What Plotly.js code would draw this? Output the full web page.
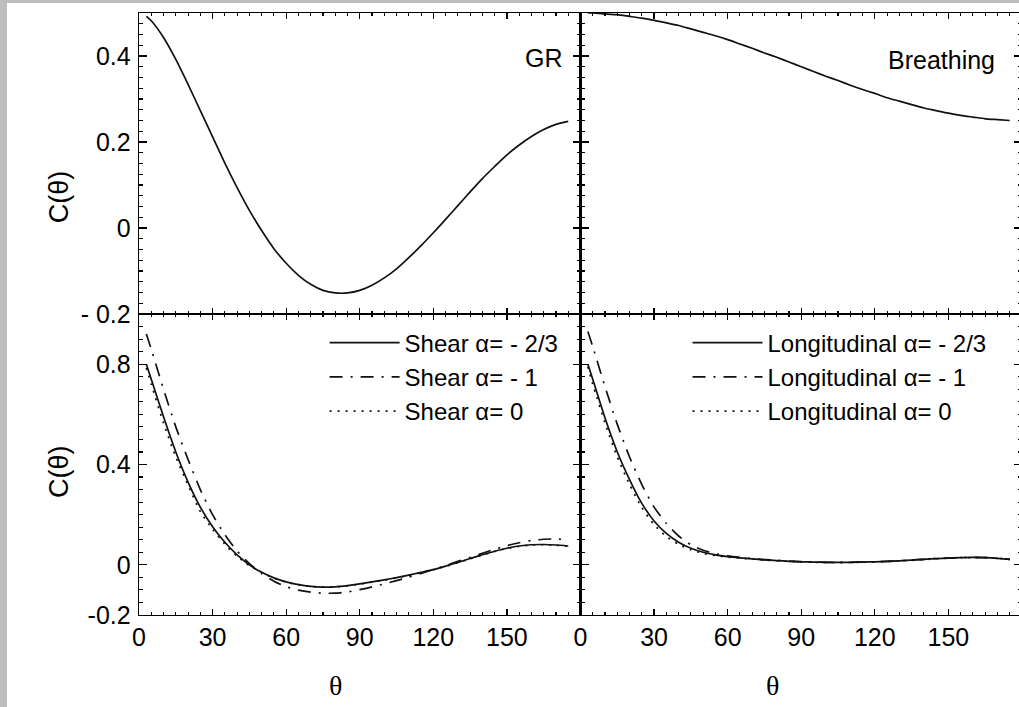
<!DOCTYPE html>
<html>
<head>
<meta charset="utf-8">
<script src="https://cdn.plot.ly/plotly-3.0.1.min.js"></script>
<style>
  html, body { margin: 0; padding: 0; background: #bebebe; overflow: hidden; width: 1019px; height: 707px; }
  #chart { position: absolute; left: 7px; top: 3px; width: 1016px; height: 704px; background: #fff; }
</style>
</head>
<body>
<div id="chart"></div>
<script>
// Angular separation (degrees) at which every correlation curve is sampled
const theta = [3, 5, 10, 15, 20, 25, 30, 35, 40, 45, 50, 55, 60, 65, 70, 75, 80, 85, 90,
               95, 100, 105, 110, 115, 120, 125, 130, 135, 140, 145, 150, 155, 160, 165, 170, 175];

// Top row: general relativity and breathing mode
const grCorr = [0.492, 0.482, 0.443, 0.392, 0.334, 0.273, 0.212, 0.151, 0.094, 0.041, -0.006, -0.048,
                -0.082, -0.110, -0.131, -0.145, -0.151, -0.151, -0.145, -0.133, -0.116, -0.095, -0.069,
                -0.041, -0.011, 0.020, 0.052, 0.084, 0.115, 0.143, 0.170, 0.193, 0.213, 0.229, 0.241, 0.248];
const breathingCorr = [0.500, 0.500, 0.498, 0.496, 0.492, 0.488, 0.483, 0.477, 0.471, 0.463, 0.455, 0.447,
                       0.438, 0.428, 0.418, 0.407, 0.397, 0.386, 0.375, 0.364, 0.353, 0.343, 0.332, 0.322,
                       0.313, 0.303, 0.295, 0.287, 0.279, 0.273, 0.267, 0.262, 0.258, 0.254, 0.252, 0.250];

// Bottom left: shear modes
const shearM23 = [0.800, 0.740, 0.590, 0.450, 0.330, 0.230, 0.152, 0.090, 0.040, 0.000, -0.030, -0.052,
                  -0.068, -0.079, -0.086, -0.089, -0.088, -0.083, -0.076, -0.068, -0.060, -0.051, -0.041,
                  -0.030, -0.019, -0.005, 0.010, 0.025, 0.040, 0.054, 0.066, 0.075, 0.080, 0.081, 0.079, 0.075];
const shearM1 = [0.920, 0.860, 0.700, 0.550, 0.420, 0.300, 0.200, 0.120, 0.055, 0.005, -0.035, -0.065,
                 -0.087, -0.101, -0.109, -0.113, -0.113, -0.108, -0.099, -0.088, -0.076, -0.063, -0.049,
                 -0.034, -0.019, -0.003, 0.014, 0.030, 0.046, 0.062, 0.076, 0.088, 0.097, 0.102, 0.103, 0.100];
const shear0 = [0.785, 0.720, 0.565, 0.430, 0.318, 0.212, 0.142, 0.082, 0.034, -0.003, -0.031, -0.053,
                -0.069, -0.079, -0.086, -0.089, -0.088, -0.084, -0.077, -0.069, -0.061, -0.052, -0.042,
                -0.031, -0.019, -0.006, 0.009, 0.024, 0.039, 0.053, 0.065, 0.074, 0.079, 0.080, 0.078, 0.074];

// Bottom right: longitudinal modes
const longM23 = [0.800, 0.740, 0.585, 0.450, 0.340, 0.245, 0.175, 0.125, 0.090, 0.066, 0.050, 0.040,
                 0.033, 0.028, 0.024, 0.020, 0.017, 0.014, 0.012, 0.011, 0.010, 0.010, 0.010, 0.011,
                 0.012, 0.014, 0.016, 0.019, 0.022, 0.025, 0.027, 0.029, 0.030, 0.029, 0.026, 0.022];
const longM1 = [0.930, 0.870, 0.710, 0.560, 0.430, 0.320, 0.230, 0.165, 0.115, 0.080, 0.058, 0.044,
                0.036, 0.030, 0.025, 0.021, 0.018, 0.015, 0.013, 0.011, 0.010, 0.010, 0.010, 0.011,
                0.012, 0.014, 0.016, 0.019, 0.022, 0.025, 0.027, 0.029, 0.030, 0.029, 0.026, 0.022];
const long0 = [0.790, 0.720, 0.565, 0.430, 0.320, 0.228, 0.160, 0.113, 0.082, 0.060, 0.046, 0.037,
               0.031, 0.027, 0.023, 0.019, 0.016, 0.014, 0.012, 0.010, 0.010, 0.009, 0.010, 0.010,
               0.012, 0.013, 0.016, 0.018, 0.021, 0.024, 0.027, 0.029, 0.029, 0.029, 0.026, 0.022];

// Tick labels
const thetaTicks = [0, 30, 60, 90, 120, 150];
const thetaTickText = ['0', '30', '60', '90', '120', '150'];
const topTicks = [-0.2, 0, 0.2, 0.4];
const topTickText = ['- 0.2', '0', '0.2', '0.4'];
const bottomTicks = [-0.2, 0, 0.4, 0.8];
const bottomTickText = ['-0.2', '0', '0.4', '0.8'];

const legendNames = {
  shear: ['Shear α= - 2/3', 'Shear α= - 1', 'Shear α= 0'],
  longitudinal: ['Longitudinal α= - 2/3', 'Longitudinal α= - 1', 'Longitudinal α= 0']
};

const INK = '#111';
const SOLID = 'solid';
const DASHDOT = '13px,8px,2px,8px';
const DOTTED = '2px,6px';

function curve(y, xa, ya, dash, name, legend) {
  return {
    type: 'scatter', mode: 'lines', x: theta, y: y, xaxis: xa, yaxis: ya,
    line: { color: INK, width: 1.7, dash: dash, shape: 'spline', smoothing: 0.6 },
    name: name || '', showlegend: !!name, legend: legend || 'legend', hoverinfo: 'skip'
  };
}

const data = [
  curve(grCorr, 'x3', 'y3', SOLID),
  curve(breathingCorr, 'x4', 'y4', SOLID),
  curve(shearM23, 'x', 'y', SOLID, legendNames.shear[0], 'legend'),
  curve(shearM1, 'x', 'y', DASHDOT, legendNames.shear[1], 'legend'),
  curve(shear0, 'x', 'y', DOTTED, legendNames.shear[2], 'legend'),
  curve(longM23, 'x2', 'y2', SOLID, legendNames.longitudinal[0], 'legend2'),
  curve(longM1, 'x2', 'y2', DASHDOT, legendNames.longitudinal[1], 'legend2'),
  curve(long0, 'x2', 'y2', DOTTED, legendNames.longitudinal[2], 'legend2')
];

const tickFont = { family: 'Liberation Sans, Arial, sans-serif', size: 25, color: '#000' };

function xAxis(domain, anchor, labels) {
  return {
    domain: domain, anchor: anchor, range: [0, 180],
    tickmode: 'array', tickvals: thetaTicks, ticktext: thetaTickText, showticklabels: labels,
    ticks: 'inside', ticklen: 6, tickwidth: 1.3, tickcolor: '#000',
    minor: { tickmode: 'linear', tick0: 0, dtick: 5, ticks: 'inside', ticklen: 3, tickwidth: 1.1, tickcolor: '#000' },
    showline: true, linecolor: '#000', linewidth: 1.3, mirror: 'ticks',
    showgrid: false, zeroline: false, tickfont: tickFont, fixedrange: true
  };
}

function yAxis(domain, anchor, range, vals, text, minorStep, labels) {
  return {
    domain: domain, anchor: anchor, range: range,
    tickmode: 'array', tickvals: vals, ticktext: text, showticklabels: labels,
    ticks: 'inside', ticklen: 8, tickwidth: 1.3, tickcolor: '#000',
    minor: { tickmode: 'linear', tick0: 0, dtick: minorStep, ticks: 'inside', ticklen: 4, tickwidth: 1.1, tickcolor: '#000' },
    showline: true, linecolor: '#000', linewidth: 1.3, mirror: 'ticks',
    showgrid: false, zeroline: false, tickfont: tickFont, ticklabelstandoff: 2, fixedrange: true
  };
}

const labelFont = { family: 'Liberation Sans, Arial, sans-serif', size: 27, color: '#000' };
const panelFont = { family: 'Liberation Sans, Arial, sans-serif', size: 25, color: '#000' };
const thetaFont = { family: 'Liberation Serif, Times New Roman, serif', size: 28, color: '#000' };
const legendFont = { family: 'Liberation Sans, Arial, sans-serif', size: 24, color: '#000' };

const layout = {
  width: 1016, height: 704,
  margin: { l: 132, r: 1, t: 10, b: 92 },
  paper_bgcolor: '#fff', plot_bgcolor: '#fff',
  showlegend: true,
  xaxis: xAxis([0, 0.5], 'y', true),
  yaxis: yAxis([0, 0.5], 'x', [-0.2, 1.0], bottomTicks, bottomTickText, 0.05, true),
  xaxis2: xAxis([0.5, 1], 'y2', true),
  yaxis2: yAxis([0, 0.5], 'x2', [-0.2, 1.0], bottomTicks, bottomTickText, 0.05, false),
  xaxis3: xAxis([0, 0.5], 'y3', false),
  yaxis3: yAxis([0.5, 1], 'x3', [-0.2, 0.5], topTicks, topTickText, 0.025, true),
  xaxis4: xAxis([0.5, 1], 'y4', false),
  yaxis4: yAxis([0.5, 1], 'x4', [-0.2, 0.5], topTicks, topTickText, 0.025, false),
  legend: {
    x: 0.2102, y: 0.489, xanchor: 'left', yanchor: 'top', xref: 'paper', yref: 'paper',
    bgcolor: 'rgba(0,0,0,0)', borderwidth: 0, font: legendFont, tracegroupgap: 0, itemwidth: 70
  },
  legend2: {
    x: 0.6212, y: 0.489, xanchor: 'left', yanchor: 'top', xref: 'paper', yref: 'paper',
    bgcolor: 'rgba(0,0,0,0)', borderwidth: 0, font: legendFont, tracegroupgap: 0, itemwidth: 70
  },
  annotations: [
    { text: 'C(θ)', xref: 'paper', yref: 'paper', x: -0.0906, y: 0.694, textangle: -90,
      showarrow: false, font: labelFont, xanchor: 'center', yanchor: 'middle' },
    { text: 'C(θ)', xref: 'paper', yref: 'paper', x: -0.0906, y: 0.2375, textangle: -90,
      showarrow: false, font: labelFont, xanchor: 'center', yanchor: 'middle' },
    { text: 'θ', xref: 'paper', yref: 'paper', x: 0.2231, y: -0.1163,
      showarrow: false, font: thetaFont, xanchor: 'center', yanchor: 'middle' },
    { text: 'θ', xref: 'paper', yref: 'paper', x: 0.718, y: -0.1163,
      showarrow: false, font: thetaFont, xanchor: 'center', yanchor: 'middle' },
    { text: 'GR', xref: 'paper', yref: 'paper', x: 0.4824, y: 0.925,
      showarrow: false, font: panelFont, xanchor: 'right', yanchor: 'middle' },
    { text: 'Breathing', xref: 'paper', yref: 'paper', x: 0.9717, y: 0.922,
      showarrow: false, font: panelFont, xanchor: 'right', yanchor: 'middle' }
  ]
};

Plotly.newPlot('chart', data, layout, { displayModeBar: false, staticPlot: true });
</script>
</body>
</html>
